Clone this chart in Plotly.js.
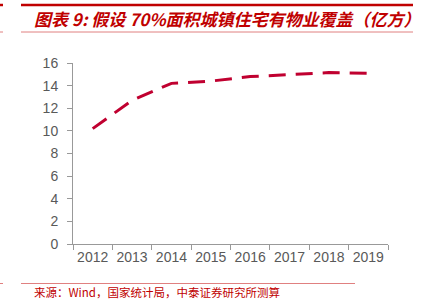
<!DOCTYPE html>
<html>
<head>
<meta charset="utf-8">
<script src="https://cdn.plot.ly/plotly-3.0.1.min.js"></script>
<style>html,body{margin:0;padding:0;background:#fff;}#chart{width:427px;height:299px;}</style>
</head>
<body>
<div id="chart"></div>
<script>
const years = ['2012','2013','2014','2015','2016','2017','2018','2019'];
const coverage = [10.2, 12.7, 14.2, 14.4, 14.8, 15.0, 15.15, 15.1];
const yTicks = [0, 2, 4, 6, 8, 10, 12, 14, 16];
const titleText = '图表 9: 假设 70%面积城镇住宅有物业覆盖（亿方）';
const sourceText = '来源：Wind，国家统计局，中泰证券研究所测算';

const red = '#C00030';
const trace = {
  x: years, y: coverage, type: 'scatter', mode: 'lines',
  line: {color: red, width: 3, dash: '17px,10px'},
  hoverinfo: 'skip'
};
const axisFont = {family: 'Liberation Sans, Arial, sans-serif', size: 14, color: '#595959'};
function px(x) { return (x - 73) / 315; }
function py(y) { return (244 - y) / 181; }
const layout = {
  width: 427, height: 299,
  margin: {l: 73, r: 39, t: 63, b: 55, pad: 0},
  paper_bgcolor: '#fff', plot_bgcolor: '#fff',
  showlegend: false,
  xaxis: {
    type: 'category', tickvals: years, ticktext: years, range: [-0.5, years.length - 0.5],
    showgrid: false, zeroline: false, tickangle: 0,
    showline: true, linecolor: '#999', linewidth: 1,
    ticks: 'outside', ticklen: 5, tickcolor: '#999', tickson: 'boundaries',
    tickfont: axisFont, fixedrange: true
  },
  yaxis: {
    range: [0, 16], tickvals: yTicks, ticktext: yTicks.map(String),
    showgrid: false, zeroline: false,
    showline: true, linecolor: '#999', linewidth: 1,
    ticks: 'outside', ticklen: 5, tickcolor: '#999',
    tickfont: axisFont, fixedrange: true, ticklabelstandoff: 6
  },
  shapes: [
    {type: 'line', xref: 'paper', yref: 'paper', x0: px(21), x1: px(413), y0: py(5), y1: py(5), line: {color: '#C00000', width: 2.5}},
    {type: 'line', xref: 'paper', yref: 'paper', x0: px(0), x1: px(3), y0: py(5), y1: py(5), line: {color: '#C00000', width: 2.5}},
    {type: 'line', xref: 'paper', yref: 'paper', x0: px(21), x1: px(413), y0: py(32), y1: py(32), line: {color: '#E08080', width: 1}},
    {type: 'line', xref: 'paper', yref: 'paper', x0: px(0), x1: px(3), y0: py(32), y1: py(32), line: {color: '#E08080', width: 1}},
    {type: 'line', xref: 'paper', yref: 'paper', x0: px(21), x1: px(355), y0: py(283.5), y1: py(283.5), line: {color: '#E08080', width: 1}},
    {type: 'line', xref: 'paper', yref: 'paper', x0: px(0), x1: px(3), y0: py(283.5), y1: py(283.5), line: {color: '#E08080', width: 1}}
  ],
  annotations: [
    {text: '<b><i>' + titleText + '</i></b>', xref: 'paper', yref: 'paper',
     x: px(32), y: py(19), xanchor: 'left', yanchor: 'middle', showarrow: false,
     font: {family: 'Noto Sans CJK SC, sans-serif', size: 17, color: '#C00000'}},
    {text: sourceText, xref: 'paper', yref: 'paper',
     x: px(32), y: py(291.5), xanchor: 'left', yanchor: 'middle', showarrow: false,
     font: {family: 'Noto Sans CJK SC, sans-serif', size: 11.5, color: '#C00000'}}
  ]
};
Plotly.newPlot('chart', [trace], layout, {displayModeBar: false, staticPlot: true});
</script>
</body>
</html>
